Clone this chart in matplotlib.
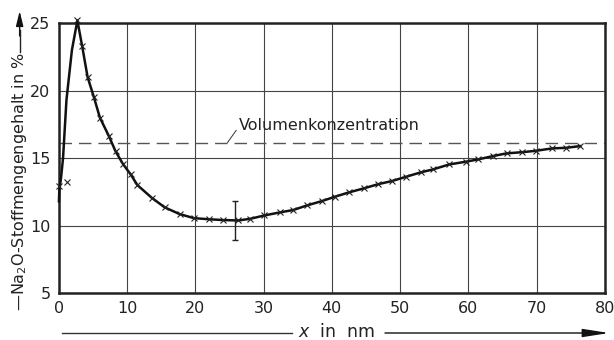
import matplotlib.pyplot as plt

# measured curve (line) and measurement points (crosses)
curve_x = [0, 0.05, 0.3, 0.6, 1.1, 1.9, 2.7, 3.4, 4.2, 5.1, 6.0, 7.3, 8.3, 9.4, 10.5, 11.5,
           13.6, 15.5, 17.7, 19.8, 22.0, 24.0, 26.3, 28.0, 30.1, 32.4, 34.3, 36.4, 38.5,
           40.4, 42.5, 44.7, 46.8, 48.8, 50.9, 53.0, 54.8, 57.2, 59.6, 61.4, 63.6, 65.6,
           67.9, 69.9, 72.3, 74.3, 76.4]
curve_y = [11.8, 12.6, 13.5, 15.0, 19.3, 23.0, 25.2, 23.3, 21.0, 19.55, 18.0, 16.65, 15.5,
           14.55, 13.8, 13.0, 12.06, 11.35, 10.85, 10.55, 10.47, 10.41, 10.38, 10.5, 10.75,
           10.98, 11.15, 11.5, 11.81, 12.13, 12.46, 12.76, 13.07, 13.3, 13.62, 13.94, 14.16,
           14.53, 14.73, 14.9, 15.15, 15.35, 15.44, 15.54, 15.72, 15.76, 15.89]
pts_x = [0.05, 1.13] + curve_x[6:]
pts_y = [12.95, 13.2] + curve_y[6:]

err_x = 25.8
err_y = 10.4
err_size = 1.45
volumen = 16.15

xticks = [0, 10, 20, 30, 40, 50, 60, 70, 80]
yticks = [5, 10, 15, 20, 25]

plt.rcParams['font.family'] = 'DejaVu Sans'
fig = plt.figure(figsize=(6.14, 3.4), dpi=100)
ax = fig.add_axes([0.096, 0.138, 0.889, 0.794])

ax.set_xlim(0, 80)
ax.set_ylim(5, 25)
ax.set_xticks(xticks)
ax.set_yticks(yticks)
ax.tick_params(length=0, labelsize=11.5, pad=6, colors='#222222')
ax.grid(True, color='#444444', lw=0.8)
for s in ax.spines.values():
    s.set_linewidth(1.8)
    s.set_color('#222222')

ax.axhline(volumen, color='#555555', lw=1.0, dashes=(9, 5))
ax.plot(curve_x, curve_y, color='#111111', lw=1.8, clip_on=False, zorder=3)
ax.plot(pts_x, pts_y, ls='none', marker='x', ms=4.5, mew=0.8, color='#222222',
        clip_on=False, zorder=4)
ax.errorbar([err_x], [err_y], yerr=[err_size], fmt='none', ecolor='#222222',
            elinewidth=1.0, capsize=2.5, zorder=4)

ax.annotate('Volumenkonzentration', xy=(24.7, volumen), xytext=(26.4, 16.85),
            fontsize=11.5, color='#222222', va='bottom', ha='left',
            arrowprops=dict(arrowstyle='-', lw=0.7, color='#333333',
                            relpos=(0, 0.45), shrinkA=0, shrinkB=0))

# axis captions with arrows
fig.text(0.032, 1 - 182 / 340, '\u2014Na$_2$O-Stoffmengengehalt in %', rotation=90,
         ha='center', va='center', fontsize=11.5, color='#222222')
fig.add_artist(plt.Line2D([0.032, 0.032], [1 - 52 / 340, 1 - 30 / 340],
                          transform=fig.transFigure, color='#222222', lw=1))
ax.annotate('', xy=(0.032, 1 - 11 / 340), xytext=(0.032, 1 - 36 / 340),
            xycoords='figure fraction', textcoords='figure fraction',
            arrowprops=dict(arrowstyle='-|>,head_length=0.9,head_width=0.22',
                            color='#111111', lw=1, shrinkA=0, shrinkB=0))

fig.text(337 / 614, 1 - 332 / 340, '$x$  in  nm', ha='center', va='center',
         fontsize=12.5, color='#222222')
fig.add_artist(plt.Line2D([62 / 614, 292 / 614], [1 - 333 / 340] * 2,
                          transform=fig.transFigure, color='#333333', lw=1))
ax.annotate('', xy=(609 / 614, 1 - 333 / 340), xytext=(385 / 614, 1 - 333 / 340),
            xycoords='figure fraction', textcoords='figure fraction',
            arrowprops=dict(arrowstyle='-|>,head_length=1.6,head_width=0.25',
                            color='#111111', lw=1, shrinkA=0, shrinkB=0))

plt.savefig('out.png', dpi=100)
plt.close()
